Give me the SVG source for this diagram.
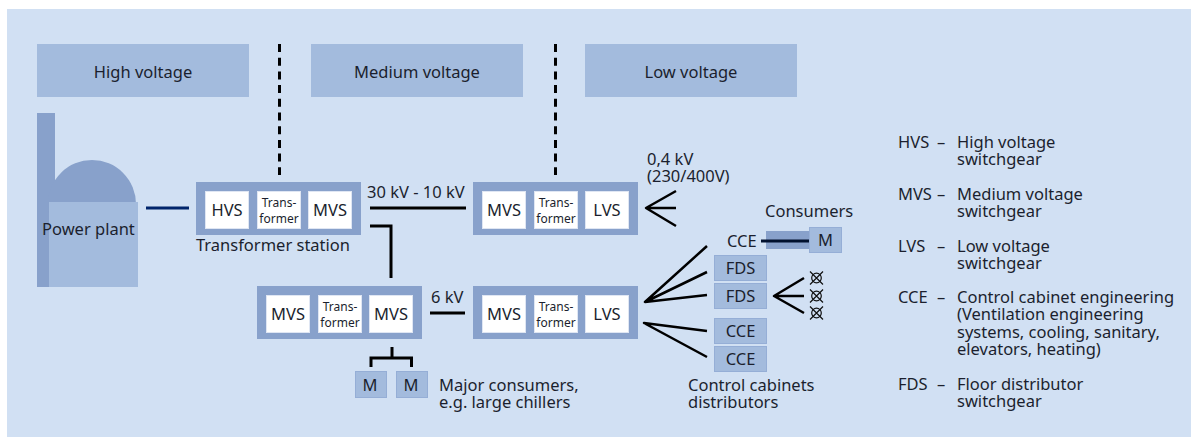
<svg xmlns="http://www.w3.org/2000/svg" width="1191" height="437" viewBox="0 0 1191 437">
<style>
text{font-family:"Noto Sans","Open Sans",sans-serif;font-size:16.5px;fill:#1b1f2e}
.m{text-anchor:middle}
.s{font-size:12px}
.hdr{fill:#a3bbdd}
.st{fill:#88a1cb}
.w{fill:#fff;stroke:#dfe6f3;stroke-width:1}
.b{fill:#a3bbdd;stroke:#95aed6;stroke-width:1}
.l{fill:none;stroke:#000;stroke-width:3}
.f{fill:none;stroke:#000;stroke-width:2.500;stroke-linejoin:round;stroke-linecap:butt}
.d{stroke-dasharray:8 5.7}
.x{fill:none;stroke:#111;stroke-width:1.200}
</style>
<defs>
<g id="sym"><circle r="4.800" class="x"/><path d="M-6.500-6.500 6.500 6.500M6.500-6.500-6.500 6.500" class="x"/></g>
</defs>
<rect x="7" y="9" width="1184" height="428" fill="#d1e0f3"/>
<g id="hv"><rect class="hdr" x="37" y="44" width="212" height="53"/><text class="m" x="143" y="78">High voltage</text></g>
<g id="mv"><rect class="hdr" x="311" y="44" width="212" height="53"/><text class="m" x="417" y="78">Medium voltage</text></g>
<g id="lv"><rect class="hdr" x="585" y="44" width="212" height="53"/><text class="m" x="691" y="78">Low voltage</text></g>
<g id="plant">
<rect class="st" x="37" y="113" width="18" height="174"/>
<circle class="st" cx="92" cy="204" r="44"/>
<rect class="hdr" x="49" y="202" width="89" height="85"/>
<text x="42" y="235">Power plant</text>
</g>
<g id="connectors">
<path d="M146 208H189" fill="none" stroke="#00246b" stroke-width="3"/>
<path class="l d" d="M279.500 44V175M555.500 44V175"/>
<path class="l" d="M370 208H466M370 226H391V278M430 313H465M392 347V358M371 367V358H411.500V367"/>
<path class="f" d="M676 191 646 208 676 226M646 208H676"/>
<path class="f" d="M707 246 645 302 707 272M645 302 707 295M707 331 644 323 707 357"/>
<path class="f" d="M804 278 774 296 804 313M774 296H804"/>
</g>
<g id="station1">
<rect class="st" x="196" y="182" width="165" height="53"/>
<rect class="w" x="205.500" y="191.500" width="43" height="37"/><text class="m" x="227" y="216">HVS</text>
<rect class="w" x="257.500" y="191.500" width="43" height="37"/><text class="m s" x="279" y="207">Trans-</text><text class="m s" x="279" y="223">former</text>
<rect class="w" x="308.500" y="191.500" width="43" height="37"/><text class="m" x="330" y="216">MVS</text>
</g>
<g id="station2">
<rect class="st" x="473" y="182" width="165" height="53"/>
<rect class="w" x="482.500" y="191.500" width="43" height="37"/><text class="m" x="504" y="216">MVS</text>
<rect class="w" x="534.500" y="191.500" width="43" height="37"/><text class="m s" x="556" y="207">Trans-</text><text class="m s" x="556" y="223">former</text>
<rect class="w" x="585.500" y="191.500" width="43" height="37"/><text class="m" x="607" y="216">LVS</text>
</g>
<g id="station3">
<rect class="st" x="257" y="286" width="165" height="53"/>
<rect class="w" x="266.500" y="295.500" width="43" height="37"/><text class="m" x="288" y="320">MVS</text>
<rect class="w" x="318.500" y="295.500" width="43" height="37"/><text class="m s" x="340" y="311">Trans-</text><text class="m s" x="340" y="327">former</text>
<rect class="w" x="369.500" y="295.500" width="43" height="37"/><text class="m" x="391" y="320">MVS</text>
</g>
<g id="station4">
<rect class="st" x="473" y="286" width="165" height="53"/>
<rect class="w" x="482.500" y="295.500" width="43" height="37"/><text class="m" x="504" y="320">MVS</text>
<rect class="w" x="534.500" y="295.500" width="43" height="37"/><text class="m s" x="556" y="311">Trans-</text><text class="m s" x="556" y="327">former</text>
<rect class="w" x="585.500" y="295.500" width="43" height="37"/><text class="m" x="607" y="320">LVS</text>
</g>
<g id="labels">
<text x="196" y="251">Transformer station</text>
<text x="367" y="198">30 kV - 10 kV</text>
<text x="431" y="303">6 kV</text>
<text x="647" y="165">0,4 kV</text>
<text x="647" y="182">(230/400V)</text>
<text x="765" y="217">Consumers</text>
<text x="727" y="247">CCE</text>
<text x="439" y="391">Major consumers,</text>
<text x="439" y="408">e.g. large chillers</text>
<text x="688" y="391">Control cabinets</text>
<text x="688" y="408">distributors</text>
</g>
<g id="consumer"><rect class="st" x="766" y="231" width="43" height="18"/><path d="M761 241H809" stroke="#00102e" stroke-width="3"/><rect class="b" x="809.500" y="227.500" width="32" height="25"/><text class="m" x="825.500" y="246">M</text></g>
<g id="fds1"><rect class="b" x="714.500" y="255.500" width="52" height="25"/><text class="m" x="740.500" y="274">FDS</text></g>
<g id="fds2"><rect class="b" x="714.500" y="283.500" width="52" height="25"/><text class="m" x="740.500" y="302">FDS</text></g>
<g id="cce1"><rect class="b" x="714.500" y="318.500" width="52" height="25"/><text class="m" x="740.500" y="337">CCE</text></g>
<g id="cce2"><rect class="b" x="714.500" y="346.500" width="52" height="25"/><text class="m" x="740.500" y="365">CCE</text></g>
<g id="m1"><rect class="b" x="355.500" y="371.500" width="31" height="26"/><text class="m" x="370" y="391">M</text></g>
<g id="m2"><rect class="b" x="396.500" y="371.500" width="31" height="26"/><text class="m" x="411" y="391">M</text></g>
<g id="loads"><use href="#sym" x="816.500" y="278"/><use href="#sym" x="816.500" y="296"/><use href="#sym" x="816.500" y="313"/></g>
<g id="legend">
<text x="898" y="148">HVS</text><text x="937" y="148">–</text><text x="957" y="148">High voltage</text><text x="957" y="165">switchgear</text>
<text x="898" y="200">MVS</text><text x="937" y="200">–</text><text x="957" y="200">Medium voltage</text><text x="957" y="217">switchgear</text>
<text x="898" y="252">LVS</text><text x="937" y="252">–</text><text x="957" y="252">Low voltage</text><text x="957" y="269">switchgear</text>
<text x="898" y="303">CCE</text><text x="937" y="303">–</text><text x="957" y="303">Control cabinet engineering</text><text x="957" y="320">(Ventilation engineering</text><text x="957" y="338">systems, cooling, sanitary,</text><text x="957" y="355">elevators, heating)</text>
<text x="898" y="390">FDS</text><text x="937" y="390">–</text><text x="957" y="390">Floor distributor</text><text x="957" y="407">switchgear</text>
</g>
</svg>
